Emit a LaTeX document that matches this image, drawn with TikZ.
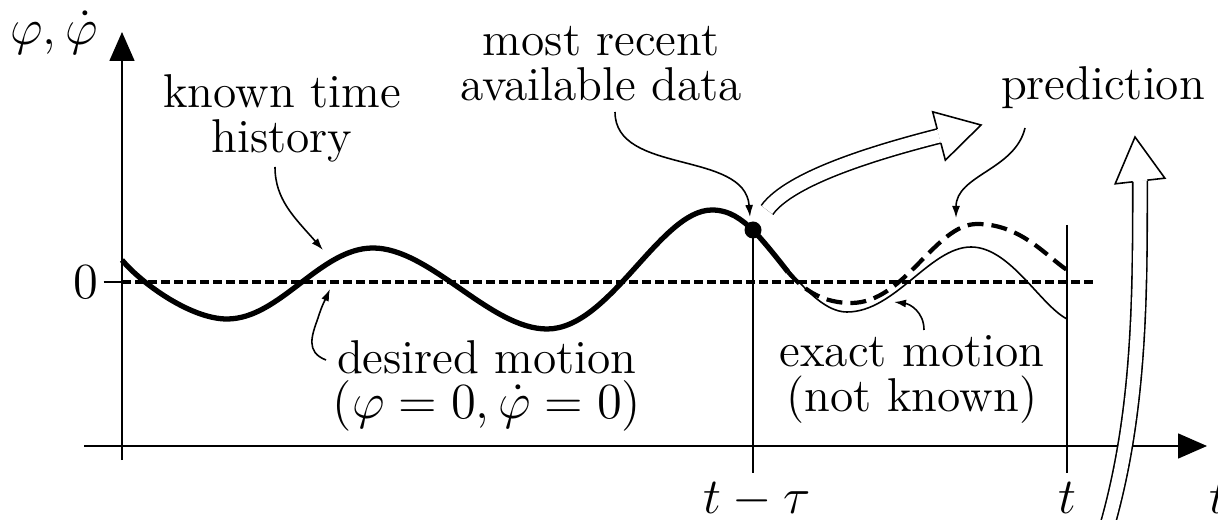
\documentclass[tikz,border=0pt]{standalone}
\usetikzlibrary{arrows.meta,calc}

\newcommand{\hollowtip}[2]{%
  \draw[hollowline, fill=white]
    ($(#1)!0.73mm!90:(#2)$) -- ($(#1)!2.5mm!90:(#2)$) -- (#2)
    -- ($(#1)!2.5mm!-90:(#2)$) -- ($(#1)!0.73mm!-90:(#2)$);}

\begin{document}
\begin{tikzpicture}[
  x=0.1mm, y=-0.1mm,
  note/.style={font=\fontsize{13.5}{12.8}\selectfont, align=center, inner sep=0pt},
  axis/.style={line width=0.45pt, -{Triangle[length=2.9mm,width=2.5mm]}},
  history/.style={line width=1.5pt},
  zeroline/.style={line width=1.1pt, dash pattern=on 0.85mm off 0.45mm},
  exact/.style={line width=0.45pt},
  predicted/.style={line width=1.2pt, dash pattern=on 1.6mm off 0.8mm},
  marker/.style={line width=0.45pt},
  pointer/.style={line width=0.45pt, -{Latex[length=1.2mm,width=0.8mm]}},
  hollowline/.style={line width=0.45pt},
  hollowshaft/.style={hollowline, double=white, double distance=1.3mm},
  dotnode/.style={circle, fill=black, minimum size=1.7mm, inner sep=0pt}
]
  \useasboundingbox (0,0) rectangle (1218,520);

  % axes
  \coordinate (o) at (122,446);
  \draw[axis] (122,460) -- (122,32);
  \draw[axis] (84,446) -- (1207,446);
  \node[note, anchor=base] (phi) at (54,45) {$\varphi,\dot\varphi$};
  \node[note] (zero) at (86,282) {$0$};
  \draw[marker] (103.5,282) -- (122,282);
  \draw[zeroline] (122,282) -- (1096,282);

  % time history up to the most recent data
  \node[dotnode] (recent) at (753,230) {};
  \draw[history] (122,260) .. controls (140,282) and (190,319) .. (227,319)
    .. controls (280,319) and (320,248) .. (373,248)
    .. controls (430,248) and (490,329) .. (547,329)
    .. controls (610,329) and (660,210) .. (712,210)
    .. controls (730,210) and (742,220) .. (recent.center);

  % exact and predicted motion
  \draw[exact] (recent.center) .. controls (785,262) and (815,312) .. (847,312)
    .. controls (895,312) and (930,247) .. (971,247)
    .. controls (1010,247) and (1040,305) .. (1067,319);
  \draw[history] (recent.center) .. controls (766,244) and (777,258) .. (788,272);
  \draw[predicted] (788,272) .. controls (805,292) and (825,303) .. (851,303)
    .. controls (905,303) and (935,224) .. (977,224)
    .. controls (1020,224) and (1045,255) .. (1067,270);

  % time markers
  \coordinate (tt) at (1067,225);
  \draw[marker] (recent.center) -- (753,473);
  \draw[marker] (tt) -- (1067,473);
  \node[note, anchor=base] (tdelay) at (757,513) {$t-\tau$};
  \node[note, anchor=base] (tnow) at (1067,513) {$t$};
  \node[note, anchor=base west] (taxis) at (1209,513) {$t$};

  % labels
  \node[note] (known) at (282,118) {known time\\history};
  \node[note] (available) at (601,64) {most recent\\available data};
  \node[note, anchor=base] (predict) at (1103,100) {prediction};
  \node[note] (desired) at (487,386) {desired motion\\$(\varphi=0,\dot\varphi=0)$};
  \node[note] (exactm) at (912,379) {exact motion\\(not known)};

  \coordinate (knownfrom) at (275,167);
  \coordinate (knownto) at (323,250);
  \coordinate (desiredfrom) at (326,360);
  \coordinate (desiredto) at (330,289);
  \coordinate (availfrom) at (615,112);
  \coordinate (availto) at (750,217);
  \coordinate (predfrom) at (1025,128);
  \coordinate (predto) at (956,218);
  \coordinate (exactfrom) at (924,330);
  \coordinate (exactto) at (894,302);

  \draw[pointer] (knownfrom) .. controls (275,200) and (295,218) .. (knownto);
  \draw[pointer] (desiredfrom) .. controls (305,352) and (312,335) .. (318,318)
    .. controls (322,305) and (326,298) .. (desiredto);
  \draw[pointer] (availfrom) .. controls (615,175) and (745,150) .. (availto);
  \draw[pointer] (predfrom) .. controls (1015,170) and (956,175) .. (predto);
  \draw[pointer] (exactfrom) .. controls (924,312) and (910,304) .. (exactto);

  % hollow arrows
  \coordinate (hAbase) at (939,136);
  \coordinate (hAtip) at (981,125);
  \coordinate (hBbase) at (1140,181);
  \coordinate (hBtip) at (1135,137);
  \draw[hollowshaft] (767,210) .. controls (790,178) and (876,152) .. (hAbase);
  \hollowtip{hAbase}{hAtip}
  \draw[hollowshaft] (1103,540) .. controls (1140,420) and (1140,300) .. (hBbase);
  \hollowtip{hBbase}{hBtip}
\end{tikzpicture}
\end{document}
